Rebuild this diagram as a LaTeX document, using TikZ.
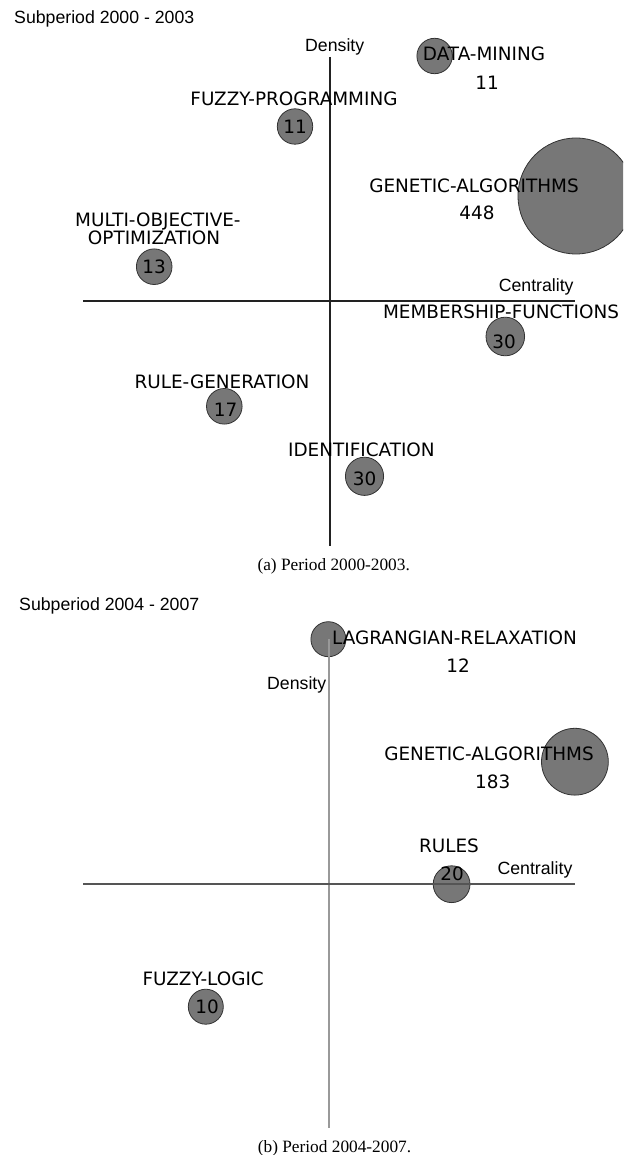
\documentclass[tikz,border=0pt]{standalone}
\usepackage{fontspec}
\setmainfont{Liberation Serif}
\newfontfamily\themefont{DejaVu Sans}
\newfontfamily\axisfont{Liberation Sans}

\definecolor{bubblefill}{HTML}{777777}
\definecolor{bubbleline}{HTML}{333333}
\definecolor{axisdark}{HTML}{222222}
\definecolor{axismid}{HTML}{555555}
\definecolor{axislight}{HTML}{999999}

\tikzset{
  bubble/.style={circle, fill=bubblefill, draw=bubbleline, line width=0.8pt,
                 inner sep=0pt, minimum size=#1},
  theme/.style={font=\themefont\fontsize{18.4}{18}\selectfont, inner sep=0pt,
                anchor=base, text=black},
  axislabel/.style={font=\axisfont\fontsize{17.7}{18}\selectfont, inner sep=0pt,
                    anchor=base west, text=black},
  caption/.style={font=\fontsize{17.3}{18}\selectfont, inner sep=0pt, anchor=base},
  axisA/.style={draw=axisdark, line width=1.2pt},
  axisBv/.style={draw=axislight, line width=1.4pt},
  axisBh/.style={draw=axismid, line width=1.2pt},
}

\begin{document}
\begin{tikzpicture}[x=1pt, y=-1pt]
\useasboundingbox (0,0) rectangle (623,1155);
\clip (0,0) rectangle (623,1155);

% ---------------- Panel (a): 2000-2003 ----------------
\node[bubble=35.4pt] (dmB) at (434.6,56) {};
\node[bubble=35.4pt] (fpB) at (295,126.5) {};
\node[bubble=116pt]  (gaB) at (576,196) {};
\node[bubble=35.6pt] (moB) at (154.2,266.7) {};
\node[bubble=38.6pt] (mfB) at (505.3,336.5) {};
\node[bubble=35.6pt] (rgB) at (224.3,406.3) {};
\node[bubble=38.2pt] (idB) at (364.5,476.3) {};

\coordinate (aTop)   at (330,57);
\coordinate (aBot)   at (330,546);
\coordinate (aLeft)  at (83.4,301);
\coordinate (aRight) at (575.3,301);
\draw[axisA] (aTop) -- (aBot);
\draw[axisA] (aLeft) -- (aRight);

\node[axislabel] (aTitle) at (14,23.5) {Subperiod 2000 - 2003};
\node[axislabel] (aDens)  at (305,52) {Density};
\node[axislabel] (aCent)  at (498.6,291.7) {Centrality};

\node[theme] (dmT)  at (484,61)     {DATA-MINING};
\node[theme] (dmN)  at (487,89.3)   {11};
\node[theme] (fpT)  at (294,105.3)  {FUZZY-PROGRAMMING};
\node[theme] (fpN)  at (295,133.3)  {11};
\node[theme] (gaT)  at (474,192.3)  {GENETIC-ALGORITHMS};
\node[theme] (gaN)  at (477,220)    {448};
\node[theme] (moT1) at (157.9,226.7) {MULTI-OBJECTIVE-};
\node[theme] (moT2) at (154.1,244.3) {OPTIMIZATION};
\node[theme] (moN)  at (154.2,273.3) {13};
\node[theme] (mfT)  at (501,318.3)  {MEMBERSHIP-FUNCTIONS};
\node[theme] (mfN)  at (504,348.3)  {30};
\node[theme] (rgT)  at (222,388.3)  {RULE-GENERATION};
\node[theme] (rgN)  at (225.7,416.7) {17};
\node[theme] (idT)  at (361.4,456)  {IDENTIFICATION};
\node[theme] (idN)  at (364.5,485)  {30};

\node[caption] (aCap) at (333.7,570) {(a) Period 2000-2003.};

% ---------------- Panel (b): 2004-2007 ----------------
\node[bubble=35pt]   (lrB) at (328.4,639.2) {};
\node[bubble=66.8pt] (gbB) at (574.9,761.7) {};
\node[bubble=36.8pt] (ruB) at (451.6,884.2) {};
\node[bubble=35pt]   (flB) at (205.8,1006.7) {};

\coordinate (bTop)   at (329,639);
\coordinate (bBot)   at (329,1128);
\coordinate (bLeft)  at (83.4,884);
\coordinate (bRight) at (575,884);
\draw[axisBv] (bTop) -- (bBot);
\draw[axisBh] (bLeft) -- (bRight);

\node[axislabel] (bTitle) at (19,610) {Subperiod 2004 - 2007};
\node[axislabel] (bDens)  at (267,689) {Density};
\node[axislabel] (bCent)  at (497.4,874) {Centrality};

\node[theme] (lrT) at (454.5,644)   {LAGRANGIAN-RELAXATION};
\node[theme] (lrN) at (458,672.7)   {12};
\node[theme] (gbT) at (489,760)     {GENETIC-ALGORITHMS};
\node[theme] (gbN) at (492.7,788.7) {183};
\node[theme] (ruT) at (449,852.3)   {RULES};
\node[theme] (ruN) at (452,880.7)   {20};
\node[theme] (flT) at (203.2,985)   {FUZZY-LOGIC};
\node[theme] (flN) at (207.2,1013.3) {10};

\node[caption] (bCap) at (334.5,1152) {(b) Period 2004-2007.};
\end{tikzpicture}
\end{document}
